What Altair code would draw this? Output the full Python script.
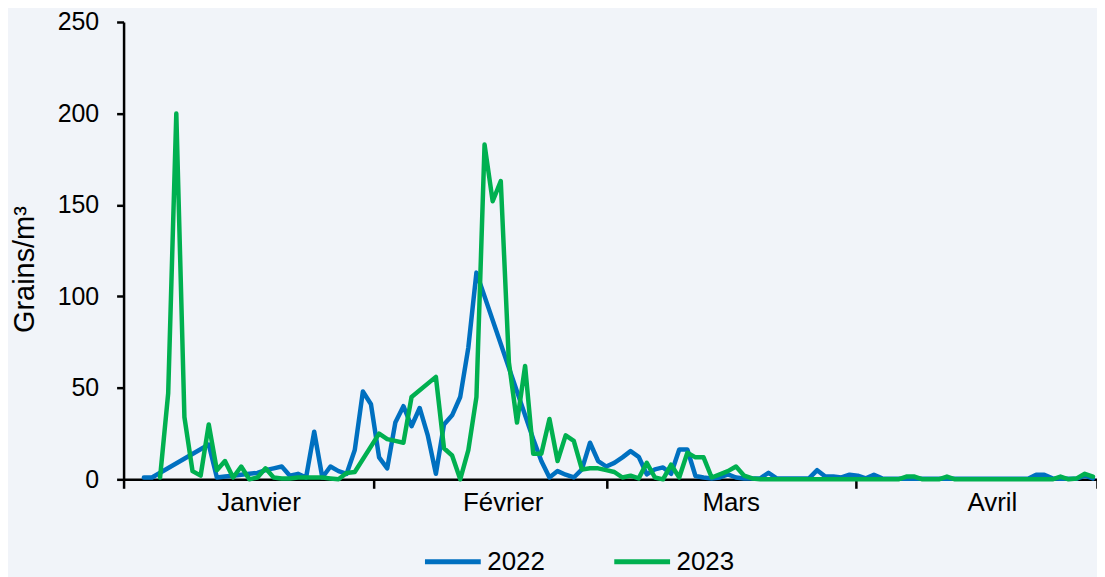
import altair as alt
import pandas as pd

# ---- data (day of year, grains/m3) ----
days_2022 = [3, 4, 11, 12, 13, 14, 15, 16, 17, 18, 19, 20, 21, 22, 23, 24, 25, 26, 27, 28,
             29, 30, 31, 32, 33, 34, 35, 36, 37, 38, 39, 40, 41, 42, 43, 44,
             51, 52, 53, 54, 55, 56, 57, 58, 59, 60, 61, 62, 63, 64, 65, 66, 67, 68, 69, 70,
             71, 72, 73, 74, 75, 76, 77, 78, 79, 80, 81, 82, 83, 84, 85, 86, 87, 88, 89, 90,
             91, 92, 93, 94, 95, 96, 97, 98, 99, 100, 101, 102, 103, 104, 105, 106, 107, 108,
             109, 110, 111, 112, 113, 114, 115, 116, 117, 118, 119, 120]
vals_2022 = [1, 1, 19, 1, 1.5, 2, 2.5, 3, 3.5, 5, 6, 7, 2, 3, 1, 26, 1, 7, 4.5, 3,
             16, 48, 41, 12, 6, 31, 40, 29, 39, 24, 3, 30, 35, 45, 72, 113,
             22, 10, 1, 4.5, 2.5, 1, 5.4, 20, 10, 7, 9, 12, 15.4, 12.3, 2.7, 5.4, 6.5, 3, 16.3, 16.3,
             1.8, 1, 0.5, 1, 2.7, 1, 0.5, 0.5, 0.5, 3.6, 0.5, 0.5, 0.5, 0.5, 0.5, 5, 1.5, 1.5, 1, 2.5,
             2, 0.5, 2.5, 0.5, 0.3, 0.3, 0.3, 0.3, 0.3, 0.3, 0.3, 0.3, 0.3, 0.3, 0.3, 0.3, 0.3, 0.3,
             0.3, 0.3, 0.3, 0.3, 2.5, 2.5, 0.5, 0.3, 0.3, 0.3, 2, 0.5]

days_2023 = [5, 6, 7, 8, 9, 10, 11, 12, 13, 14, 15, 16, 17, 18, 19, 20, 21, 22, 23, 24, 25,
             26, 27, 28, 29, 32, 33, 34, 35, 36, 39, 40, 41, 42, 43, 44, 45, 46, 47, 48, 49,
             50, 51, 52, 53, 54, 55, 56, 57, 58, 59, 60, 61, 62, 63, 64, 65, 66, 67, 68, 69,
             70, 71, 72, 73, 74, 75, 76, 77, 78, 79, 80, 81, 82, 83, 84, 85, 86, 87, 88, 89,
             90, 91, 92, 93, 94, 95, 96, 97, 98, 99, 100, 101, 102, 103, 104, 105, 106, 107,
             108, 109, 110, 111, 112, 113, 114, 115, 116, 117, 118, 119, 120]
vals_2023 = [1, 47, 200, 34, 4.5, 2, 30, 5, 10, 1, 7, 0, 1, 6, 1, 0.5, 0.5, 1, 1, 1, 1,
             0.5, 0, 3.5, 4, 25, 22, 21, 20, 45, 56, 17, 13, 0, 16, 45, 183, 152, 163, 64, 31,
             62, 14, 14, 33, 10, 24, 21, 5.4, 6, 6, 5, 4, 1, 2, 0.5, 9, 1, 0, 8, 1,
             14.5, 12, 12, 1, 2.7, 4.5, 7, 2, 0.5, 0, 0, 0, 0, 0, 0, 0, 0, 0, 0, 0,
             0, 0, 0, 0, 0, 0, 0, 1.5, 1.5, 0, 0, 0, 1.5, 0, 0, 0, 0, 0,
             0, 0, 0, 0, 0, 0, 0, 0, 1.5, 0, 0.5, 3, 1.5]

years = ["2022", "2023"]
colors = ["#0070C0", "#00B050"]

month_names = ["Janvier", "Février", "Mars", "Avril"]
month_label_pos = [17.2, 47.3, 75.4, 107.6]
month_ticks = [0.5, 31.3, 60.1, 90.8, 120.5]
y_ticks = [0, 50, 100, 150, 200, 250]

df = pd.concat([
    pd.DataFrame({"day": days_2022, "value": vals_2022, "year": "2022"}),
    pd.DataFrame({"day": days_2023, "value": vals_2023, "year": "2023"}),
])
months = pd.DataFrame({"pos": month_label_pos, "name": month_names})

FONT = "Liberation Sans"
W, H = 977, 459
x_scale = alt.Scale(domain=[0.5, 120.5], nice=False, zero=False)

lines = alt.Chart(df).mark_line(strokeWidth=4.5, strokeJoin="round", strokeCap="round").encode(
    x=alt.X("day:Q", scale=x_scale,
            axis=alt.Axis(values=month_ticks, labels=False, ticks=True, tickSize=9,
                          tickWidth=2.5, tickColor="black", domainColor="black",
                          domainWidth=2.5, grid=False, title=None, orient="bottom")),
    y=alt.Y("value:Q", scale=alt.Scale(domain=[0, 250], nice=False),
            axis=alt.Axis(values=y_ticks, tickSize=7, tickWidth=2.5, tickColor="black",
                          domainColor="black", domainWidth=2.5, grid=False,
                          labelFont=FONT, labelFontSize=25, labelColor="black",
                          labelPadding=18, title="Grains/m³", titleFont=FONT,
                          titleFontSize=29, titleFontWeight="normal", titleColor="black",
                          titleX=-99, titleY=248, titleBaseline="middle")),
    color=alt.Color("year:N", scale=alt.Scale(domain=years, range=colors),
                    legend=alt.Legend(orient="none", direction="horizontal", title=None,
                                      legendX=300, legendY=511, padding=0,
                                      symbolType="stroke", symbolSize=3136,
                                      symbolStrokeWidth=5, labelFont=FONT,
                                      labelFontSize=26, labelColor="black",
                                      labelOffset=4, columnPadding=59)),
)

labels = alt.Chart(months).mark_text(font=FONT, fontSize=26, color="black",
                                     baseline="top", align="center").encode(
    x=alt.X("pos:Q", scale=x_scale),
    y=alt.value(H + 11),
    text="name:N",
)

chart = alt.layer(lines, labels).properties(
    width=W, height=H,
    padding={"left": 116, "top": 13, "right": 0, "bottom": 97},
    autosize=alt.AutoSizeParams(type="none"),
    background="#F1F4F9",
).configure_view(stroke=None)

chart.save("out.html", embed_options={"renderer": "svg", "actions": False})
